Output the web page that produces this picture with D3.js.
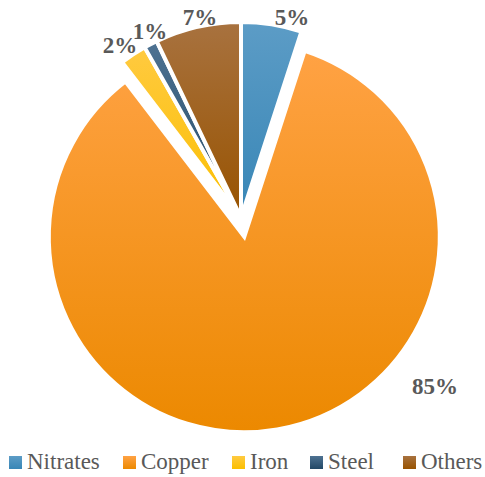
<!DOCTYPE html>
<html>
<head>
<meta charset="utf-8">
<script src="https://cdn.jsdelivr.net/npm/d3@7"></script>
<style>
html,body{margin:0;padding:0;background:#fff;}
svg{display:block;}
svg text{font-family:"Liberation Serif","DejaVu Serif",serif;}
</style>
</head>
<body>
<svg id="chart" width="485" height="477"></svg>
<script>
// ---- data ----
const categories = ["Nitrates", "Copper", "Iron", "Steel", "Others"];
const values = [5.0, 84.6, 2.2, 1.1, 7.1];
const labels = ["5%", "85%", "2%", "1%", "7%"];

// ---- styling (not data) ----
const topColors = ["#5c9cc6", "#ffa244", "#ffca40", "#4e7292", "#a8723f"];
const bottomColors = ["#3886b6", "#ec8900", "#fbbf00", "#224866", "#985300"];
const explode = [0, 19.5, 0, 0, 0];
const labelCenters = [[292, 17], [435, 386], [120, 45], [150, 31], [200, 17]];
const legendX = [9, 123, 232, 310, 403];

const svg = d3.select("#chart");
const cx = 241, cy = 217.5, R = 195.5;

const defs = svg.append("defs");
categories.forEach((c, i) => {
  const g = defs.append("linearGradient")
    .attr("id", "grad" + i)
    .attr("x1", 0).attr("y1", 0).attr("x2", 0).attr("y2", 1);
  g.append("stop").attr("offset", "0%").attr("stop-color", topColors[i]);
  g.append("stop").attr("offset", "100%").attr("stop-color", bottomColors[i]);
});

const pie = d3.pie().sort(null).value(d => d)(values);
const arc = d3.arc().innerRadius(0).outerRadius(R);

const gPie = svg.append("g").attr("transform", `translate(${cx},${cy})`);
gPie.selectAll("path")
  .data(pie)
  .join("path")
  .attr("d", arc)
  .attr("transform", (d, i) => {
    const a = (d.startAngle + d.endAngle) / 2;
    return `translate(${explode[i] * Math.sin(a)},${-explode[i] * Math.cos(a)})`;
  })
  .attr("fill", (d, i) => `url(#grad${i})`)
  .attr("stroke", "#fff")
  .attr("stroke-width", 4)
  .attr("stroke-linejoin", "miter");

// data labels
svg.append("g").selectAll("text")
  .data(labels)
  .join("text")
  .attr("x", (d, i) => labelCenters[i][0])
  .attr("y", (d, i) => labelCenters[i][1])
  .attr("text-anchor", "middle")
  .attr("dominant-baseline", "central")
  .style("font-weight", "bold")
  .style("font-size", "23px")
  .attr("fill", "#595959")
  .text(d => d);

// legend
const lg = svg.append("g");
categories.forEach((c, i) => {
  const item = lg.append("g").attr("transform", `translate(${legendX[i]},0)`);
  item.append("rect")
    .attr("x", 0).attr("y", 456).attr("width", 13).attr("height", 13)
    .attr("fill", `url(#grad${i})`);
  item.append("text")
    .attr("x", 18).attr("y", 469)
    .style("font-size", "23px")
    .attr("fill", "#595959")
    .text(c);
});
</script>
</body>
</html>
